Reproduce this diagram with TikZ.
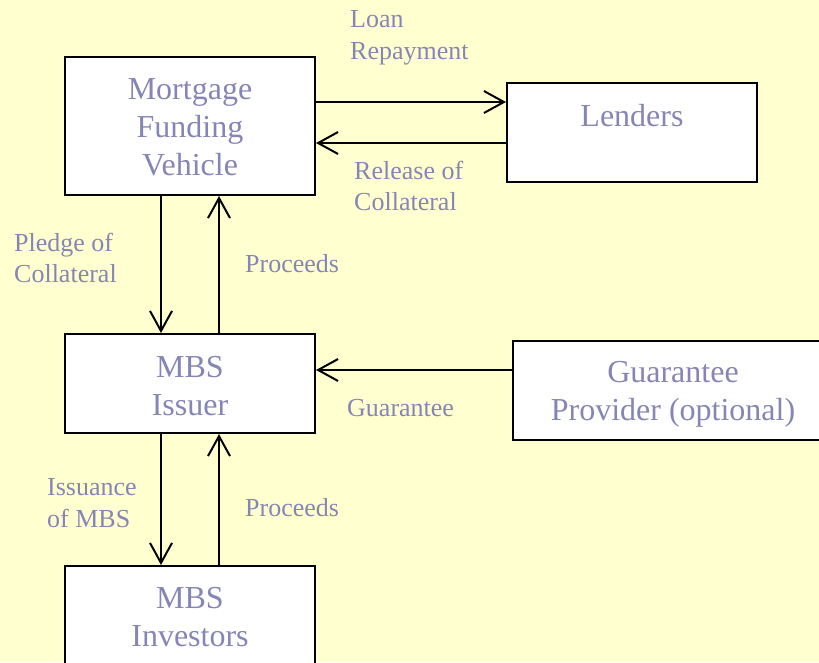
\documentclass[tikz,border=0pt]{standalone}
\usepackage{fontspec}
\setmainfont{Liberation Serif}
\usetikzlibrary{arrows.meta}
\definecolor{bgyellow}{RGB}{255,255,208}
\definecolor{labelblue}{RGB}{134,134,182}
\begin{document}
\begin{tikzpicture}[x=1pt,y=-1pt,
  box/.style={draw=black,line width=2pt,fill=white,rectangle,inner sep=0},
  boxtext/.style={text=labelblue,font=\fontsize{32}{38}\selectfont,align=center,inner sep=0},
  flowlabel/.style={text=labelblue,font=\fontsize{26}{31.5}\selectfont,align=left,inner sep=0,anchor=west},
  flow/.style={line width=2pt,-{Straight Barb[length=20pt,width=22pt,line width=2pt]}}]
\useasboundingbox (0,0) rectangle (819,662);
\fill[bgyellow] (0,0) rectangle (819,662);
\clip (0,0) rectangle (819,662);

% boxes
\node[box,minimum width=250pt,minimum height=138pt] (mfv) at (190,126) {};
\node[box,minimum width=250pt,minimum height=99pt] (lenders) at (632,132.5) {};
\node[box,minimum width=250pt,minimum height=99pt] (issuer) at (190,383.5) {};
\node[box,minimum width=320pt,minimum height=99pt] (guar) at (673,390.5) {};
\node[box,minimum width=250pt,minimum height=120pt] (investors) at (190,626) {};

% box texts
\node[boxtext] (mfvtext) at (190,127.5) {Mortgage\\Funding\\Vehicle};
\node[boxtext] (lenderstext) at (632,116) {Lenders};
\node[boxtext] (issuertext) at (190,386) {MBS\\Issuer};
\node[boxtext] (guartext) at (673,394.5) {Guarantee\\Provider (optional)};
\node[boxtext] (investorstext) at (190,617) {MBS\\Investors};

% flows
\draw[flow] (mfv.east |- 0,102) -- (lenders.west |- 0,102);
\draw[flow] (lenders.west |- 0,143) -- (mfv.east |- 0,143);
\draw[flow] (mfv.south -| 161,0) -- (issuer.north -| 161,0);
\draw[flow] (issuer.north -| 219,0) -- (mfv.south -| 219,0);
\draw[flow] (guar.west |- 0,370) -- (issuer.east |- 0,370);
\draw[flow] (issuer.south -| 161,0) -- (investors.north -| 161,0);
\draw[flow] (investors.north -| 219,0) -- (issuer.south -| 219,0);

% flow labels
\node[flowlabel] (repay) at (350,38) {Loan\\Repayment};
\node[flowlabel] (release) at (354,186) {Release of\\Collateral};
\node[flowlabel] (pledge) at (14,258) {Pledge of\\Collateral};
\node[flowlabel] (proceedsA) at (245,264) {Proceeds};
\node[flowlabel] (guarantee) at (347,408) {Guarantee};
\node[flowlabel] (issuance) at (47,503) {Issuance\\of MBS};
\node[flowlabel] (proceedsB) at (245,508) {Proceeds};
\end{tikzpicture}
\end{document}
